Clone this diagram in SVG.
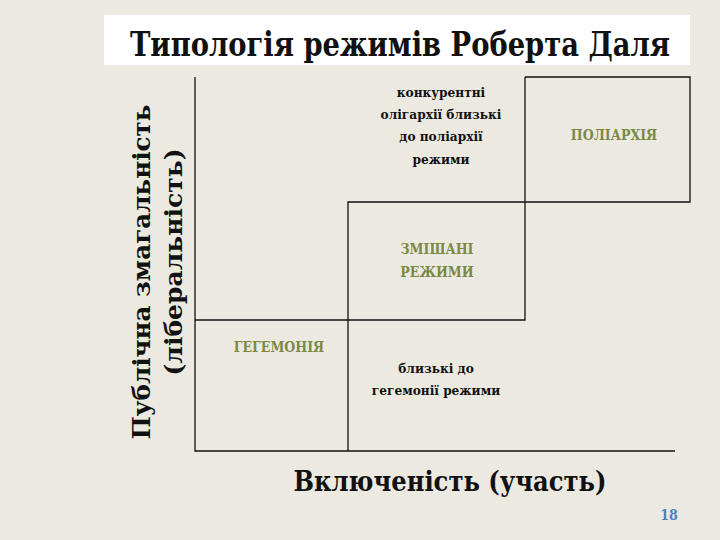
<svg xmlns="http://www.w3.org/2000/svg" width="720" height="540" viewBox="0 0 720 540">
<style>
text{font-family:"DejaVu Serif Condensed","DejaVu Serif","Liberation Serif",serif;font-weight:bold;text-anchor:middle}
.g{fill:#7a8a45;font-size:14px}
.k{fill:#111;font-size:13.5px}
.ln{stroke:#111;stroke-width:1.3;fill:none}
</style>
<rect width="720" height="540" fill="#ECE9E1"/>
<g id="title"><rect x="104" y="15" width="586" height="50" fill="#fff"/>
<text x="400" y="56" font-size="33" fill="#111" textLength="540" lengthAdjust="spacingAndGlyphs">Типологія режимів Роберта Даля</text></g>
<g id="yaxis"><text transform="translate(150,272) rotate(-90)" font-size="25" fill="#111" textLength="335" lengthAdjust="spacingAndGlyphs">Публічна змагальність</text>
<text transform="translate(182,262) rotate(-90)" font-size="25" fill="#111" textLength="227" lengthAdjust="spacingAndGlyphs">(ліберальність)</text></g>
<g id="connectors">
<path class="ln" d="M195,77V451H675"/>
<path class="ln" d="M525,77H690V202H348V451"/>
<path class="ln" d="M525,77V320H195"/>
</g>
<g id="polyarchy"><text class="g" x="614" y="140">ПОЛІАРХІЯ</text></g>
<g id="oligarchy"><text class="k" x="441" y="97">конкурентні</text><text class="k" x="441" y="119">олігархії  близькі</text><text class="k" x="441" y="141">до поліархії</text><text class="k" x="441" y="164">режими</text></g>
<g id="mixed"><text class="g" x="437" y="254">ЗМІШАНІ</text><text class="g" x="437" y="277">РЕЖИМИ</text></g>
<g id="hegemony"><text class="g" x="279" y="352">ГЕГЕМОНІЯ</text></g>
<g id="nearheg"><text class="k" x="436" y="373">близькі до</text><text class="k" x="436" y="395">гегемонії режими</text></g>
<g id="xaxis"><text x="450" y="491" font-size="28" fill="#111" textLength="313" lengthAdjust="spacingAndGlyphs">Включеність (участь)</text></g>
<text x="669" y="520" font-size="14" fill="#4f81bd">18</text>
</svg>
